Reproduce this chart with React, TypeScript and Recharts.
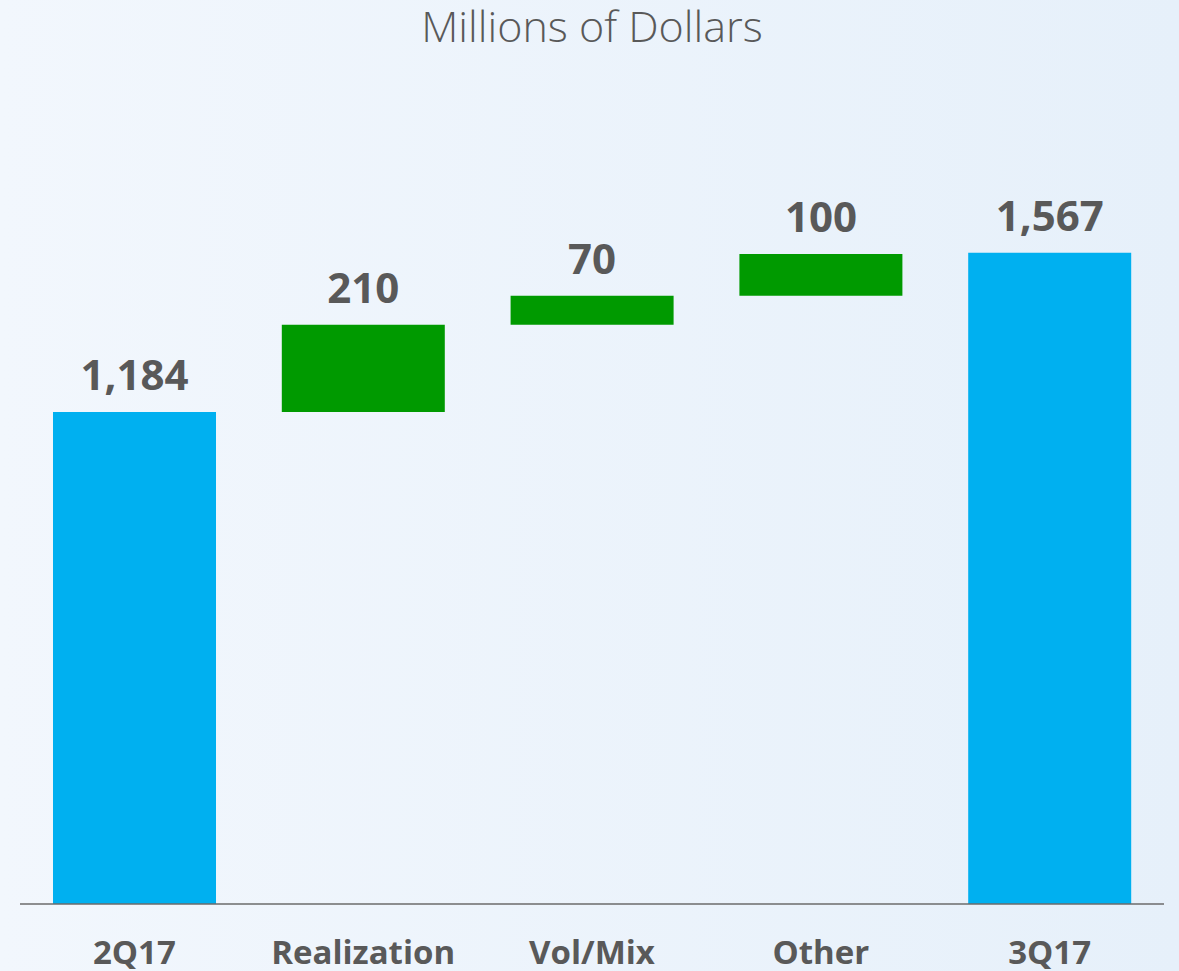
import { BarChart, Bar, XAxis, YAxis, Cell, LabelList } from 'recharts'

const categories = ['2Q17', 'Realization', 'Vol/Mix', 'Other', '3Q17']
const amounts = [1184, 210, 70, 100, 1567]
const isTotal = [true, false, false, false, true]

const BLUE = '#00B0F0'
const GREEN = '#009A00'
const TEXT = '#595959'
const FONT = '"Open Sans", "Noto Sans", sans-serif'

// running total -> invisible base under each step bar
let running = 0
const chartData = categories.map((name, i) => {
  const base = isTotal[i] ? 0 : running
  running = isTotal[i] ? amounts[i] : running + amounts[i]
  return { name, base, value: amounts[i], total: isTotal[i] }
})

export default function App() {
  return (
    <div
      style={{
        position: 'absolute', top: 0, left: 0, width: 1179, height: 971,
        background: 'linear-gradient(to right, #F2F7FD, #E6F0FA)',
        fontFamily: FONT, overflow: 'hidden',
      }}
    >
      <div
        style={{
          position: 'absolute', top: 4, left: 0, width: 1184, textAlign: 'center',
          fontSize: 43, lineHeight: '43px', fontWeight: 300, color: TEXT,
        }}
      >
        Millions of Dollars
      </div>
      <BarChart
        width={1179}
        height={971}
        data={chartData}
        margin={{ top: 156, right: 15, left: 20, bottom: 0 }}
        barSize={163}
      >
        <XAxis
          dataKey="name"
          height={67}
          tickLine={false}
          tickSize={0}
          tickMargin={37}
          axisLine={{ stroke: '#6B6B6B', strokeWidth: 1.5 }}
          tick={{ fontSize: 33, fontWeight: 700, fill: TEXT, fontFamily: FONT }}
          interval={0}
        />
        <YAxis hide domain={[0, 1800]} />
        <Bar dataKey="base" stackId="w" fill="transparent" isAnimationActive={false} />
        <Bar dataKey="value" stackId="w" isAnimationActive={false}>
          {chartData.map((d, i) => (
            <Cell key={i} fill={d.total ? BLUE : GREEN} />
          ))}
          <LabelList
            dataKey="value"
            position="top"
            offset={22}
            formatter={(v: any) => Number(v).toLocaleString('en-US')}
            style={{ fontSize: 42, fontWeight: 700, fill: TEXT, fontFamily: FONT }}
          />
        </Bar>
      </BarChart>
    </div>
  )
}
